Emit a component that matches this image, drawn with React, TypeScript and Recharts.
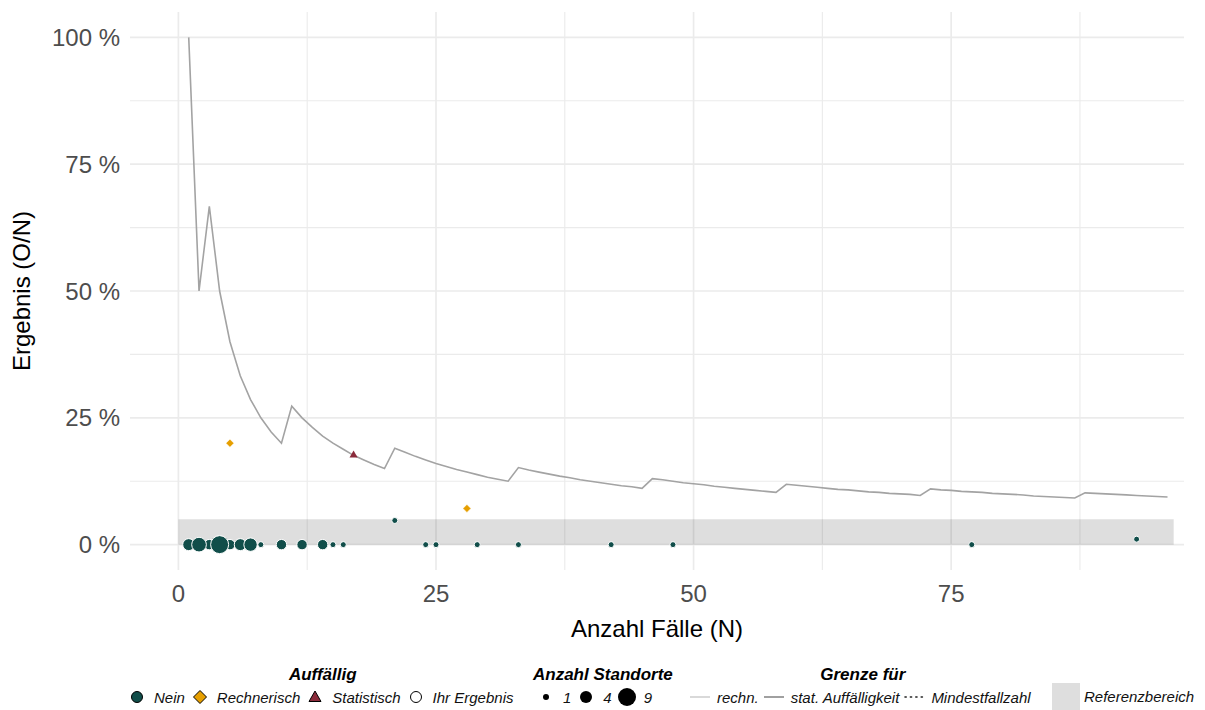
import React from 'react';
import {
  ComposedChart,
  Line,
  Scatter,
  XAxis,
  YAxis,
  ZAxis,
  CartesianGrid,
  ReferenceArea,
} from 'recharts';

const FONT = '"Liberation Sans", Arial, Helvetica, sans-serif';

// Grenze für statistische Auffälligkeit, je Fallzahl N (in %)
const limitN = [
  1, 2, 3, 4, 5, 6, 7, 8, 9, 10, 11, 12, 13, 14, 15, 16, 17, 18, 19, 20,
  21, 22, 23, 24, 25, 26, 27, 28, 29, 30, 31, 32, 33, 34, 35, 36, 37, 38, 39, 40,
  41, 42, 43, 44, 45, 46, 47, 48, 49, 50, 51, 52, 53, 54, 55, 56, 57, 58, 59, 60,
  61, 62, 63, 64, 65, 66, 67, 68, 69, 70, 71, 72, 73, 74, 75, 76, 77, 78, 79, 80,
  81, 82, 83, 84, 85, 86, 87, 88, 89, 90, 91, 92, 93, 94, 95, 96,
];
const limitPct = [
  100, 50, 66.7, 50, 40, 33.3, 28.6, 25, 22.2, 20,
  27.3, 25, 23.1, 21.4, 20, 18.8, 17.6, 16.7, 15.8, 15,
  19.0, 18.2, 17.4, 16.7, 16, 15.4, 14.8, 14.3, 13.8, 13.3, 12.9, 12.5,
  15.2, 14.7, 14.3, 13.9, 13.5, 13.2, 12.8, 12.5, 12.2, 11.9, 11.6, 11.4, 11.1,
  13.0, 12.8, 12.5, 12.2, 12, 11.8, 11.5, 11.3, 11.1, 10.9, 10.7, 10.5, 10.3,
  11.9, 11.7, 11.5, 11.3, 11.1, 10.9, 10.8, 10.6, 10.4, 10.3, 10.1, 10, 9.9, 9.7,
  11.0, 10.8, 10.7, 10.5, 10.4, 10.3, 10.1, 10, 9.9, 9.8, 9.6, 9.5, 9.4, 9.3, 9.2,
  10.2, 10.1, 10, 9.9, 9.8, 9.7, 9.6, 9.5, 9.4,
];

// Standorte ohne Auffälligkeit: Fallzahl, Ergebnis (%), Anzahl Standorte
const neinN = [3, 5, 1, 6, 7, 2, 4, 8, 10, 12, 14, 15, 16, 21, 24, 25, 29, 33, 42, 48, 77, 93];
const neinPct = [0, 0, 0, 0, 0, 0, 0, 0, 0, 0, 0, 0, 0, 4.76, 0, 0, 0, 0, 0, 0, 0, 1.08];
const neinSites = [3, 3, 4, 4, 5, 6, 9, 1, 3, 3, 3, 1, 1, 1, 1, 1, 1, 1, 1, 1, 1, 1];

// Rechnerisch auffällig
const rechN = [5, 28];
const rechPct = [20, 7.14];

// Statistisch auffällig
const statN = [17];
const statPct = [17.65];

// Referenzbereich
const refRange = { xFrom: 0, xTo: 96.6, yFrom: 0, yTo: 5 };

const xTicks = [0, 25, 50, 75];
const xMinor = [12.5, 37.5, 62.5, 87.5];
const yTicks = [0, 25, 50, 75, 100];
const yMinor = [12.5, 37.5, 62.5, 87.5];

const auffLabels = ['Nein', 'Rechnerisch', 'Statistisch', 'Ihr Ergebnis'];
const sizeLabels = [1, 4, 9];
const grenzeLabels = ['rechn.', 'stat. Auffälligkeit', 'Mindestfallzahl'];

const limitData = limitN.map((n, i) => ({ n, v: limitPct[i] }));
const neinData = neinN.map((n, i) => ({ n, v: neinPct[i], sites: neinSites[i] }));
const rechData = rechN.map((n, i) => ({ n, v: rechPct[i], sites: 1 }));
const statData = statN.map((n, i) => ({ n, v: statPct[i], sites: 1 }));

const TEAL = '#114e4a';
const ORANGE = '#e69f00';
const RED = '#8b2b3b';

const DiamondShape = (props: any) => {
  const { cx, cy } = props;
  const h = 4;
  return (
    <polygon
      points={`${cx},${cy - h} ${cx + h},${cy} ${cx},${cy + h} ${cx - h},${cy}`}
      fill={ORANGE}
      stroke="#fff"
      strokeWidth={0.5}
    />
  );
};

const XTitle = (props: any) => {
  const vb = props.viewBox;
  return (
    <text
      x={vb.x + vb.width / 2}
      y={vb.y + 67}
      textAnchor="middle"
      fontSize={24}
      fontFamily={FONT}
      fill="#000"
    >
      Anzahl Fälle (N)
    </text>
  );
};

const YTitle = (props: any) => {
  const vb = props.viewBox;
  const cx = 30;
  const cy = vb.y + vb.height / 2;
  return (
    <text
      x={cx}
      y={cy}
      transform={`rotate(-90 ${cx} ${cy})`}
      textAnchor="middle"
      fontSize={24}
      fontFamily={FONT}
      fill="#000"
    >
      Ergebnis (O/N)
    </text>
  );
};

const txt: React.CSSProperties = {
  fontStyle: 'italic',
  fontSize: 15,
  color: '#111',
  whiteSpace: 'nowrap',
  marginLeft: 7,
  marginRight: 5,
};
const title: React.CSSProperties = {
  fontStyle: 'italic',
  fontWeight: 'bold',
  fontSize: 17,
  textAlign: 'center',
  height: 20,
  lineHeight: '20px',
  whiteSpace: 'nowrap',
  color: '#000',
};
const row: React.CSSProperties = {
  display: 'flex',
  alignItems: 'center',
  height: 24,
  marginTop: 0,
};

const Key = ({ children, w = 20 }: { children: React.ReactNode; w?: number }) => (
  <svg width={w} height={20} viewBox={`0 0 ${w} 20`} style={{ display: 'block', flex: 'none' }}>
    {children}
  </svg>
);

const auffIcons = [
  <circle cx={10} cy={10} r={5.5} fill={TEAL} stroke="#000" strokeWidth={1} />,
  <polygon points="10,3.5 16.5,10 10,16.5 3.5,10" fill={ORANGE} stroke="#000" strokeWidth={1} />,
  <polygon points="10,4 16,14.5 4,14.5" fill={RED} stroke="#000" strokeWidth={1} />,
  <circle cx={10} cy={10} r={5.5} fill="#fff" stroke="#000" strokeWidth={1} />,
];
const sizeRadii = [3, 6, 9];
const grenzeIcons = [
  <line x1={0} y1={10} x2={20} y2={10} stroke="#d9d9d9" strokeWidth={2} />,
  <line x1={0} y1={10} x2={20} y2={10} stroke="#a0a0a0" strokeWidth={2} />,
  <line x1={1} y1={10} x2={20} y2={10} stroke="#222" strokeWidth={1.6} strokeDasharray="1.2 4.2" strokeLinecap="round" />,
];

const LegendBlock = () => (
  <div style={{ position: 'absolute', left: 0, top: 0, width: 1205, height: 710, pointerEvents: 'none', fontFamily: FONT }}>
    <div style={{ position: 'absolute', left: 127, top: 665 }}>
      <div style={title}>Auffällig</div>
      <div style={row}>
        {auffLabels.map((l, i) => (
          <React.Fragment key={l}>
            <Key>{auffIcons[i]}</Key>
            <span style={txt}>{l}</span>
          </React.Fragment>
        ))}
      </div>
    </div>
    <div style={{ position: 'absolute', left: 533, top: 665 }}>
      <div style={title}>Anzahl Standorte</div>
      <div style={{ ...row, marginLeft: 3 }}>
        {sizeLabels.map((l, i) => (
          <React.Fragment key={l}>
            <Key>
              <circle cx={10} cy={10} r={sizeRadii[i]} fill="#000" />
            </Key>
            <span style={txt}>{l}</span>
          </React.Fragment>
        ))}
      </div>
    </div>
    <div style={{ position: 'absolute', left: 690, top: 665 }}>
      <div style={title}>Grenze für</div>
      <div style={row}>
        {grenzeLabels.map((l, i) => (
          <React.Fragment key={l}>
            <Key>{grenzeIcons[i]}</Key>
            <span style={txt}>{l}</span>
          </React.Fragment>
        ))}
      </div>
    </div>
    <div style={{ position: 'absolute', left: 1052, top: 683, display: 'flex', alignItems: 'center' }}>
      <div style={{ width: 28, height: 27, background: '#dedede' }} />
      <span style={{ ...txt, marginLeft: 4 }}>Referenzbereich</span>
    </div>
  </div>
);

export default function App() {
  return (
    <div style={{ position: 'relative', width: 1205, height: 710, background: '#fff', fontFamily: FONT }}>
      <style>{`body{margin:0}`}</style>
      <ComposedChart width={1205} height={710} margin={{ top: 12, right: 21, bottom: 60, left: 0 }}>
        <CartesianGrid
          stroke="#ebebeb"
          strokeWidth={1.1}
          horizontalValues={yMinor}
          verticalValues={xMinor}
        />
        <CartesianGrid
          stroke="#ebebeb"
          strokeWidth={1.7}
          horizontalValues={yTicks}
          verticalValues={xTicks}
        />
        <XAxis
          type="number"
          dataKey="n"
          domain={[-4.7, 97.6]}
          ticks={xTicks}
          interval={0}
          allowDataOverflow
          axisLine={false}
          tickLine={false}
          tickSize={0}
          tickMargin={15}
          height={80}
          tick={{ fill: '#4d4d4d', fontSize: 24, fontFamily: FONT }}
          label={<XTitle />}
        />
        <YAxis
          type="number"
          dataKey="v"
          domain={[-5, 105]}
          ticks={yTicks}
          interval={0}
          allowDataOverflow
          axisLine={false}
          tickLine={false}
          tickSize={0}
          tickMargin={10}
          width={130}
          tickFormatter={(v: number) => `${v} %`}
          tick={{ fill: '#4d4d4d', fontSize: 24, fontFamily: FONT }}
          label={<YTitle />}
        />
        <ZAxis type="number" dataKey="sites" domain={[1, 9]} range={[28.3, 254.5]} />
        <ReferenceArea
          x1={refRange.xFrom}
          x2={refRange.xTo}
          y1={refRange.yFrom}
          y2={refRange.yTo}
          fill="#000"
          fillOpacity={0.13}
          stroke="none"
        />
        <Line
          data={limitData}
          dataKey="v"
          type="linear"
          stroke="#a3a3a3"
          strokeWidth={1.6}
          dot={false}
          activeDot={false}
          isAnimationActive={false}
        />
        <Scatter data={neinData} fill={TEAL} stroke="#fff" strokeWidth={1} isAnimationActive={false} />
        <Scatter data={rechData} shape={<DiamondShape />} isAnimationActive={false} />
        <Scatter data={statData} shape="triangle" fill={RED} isAnimationActive={false} />
      </ComposedChart>
      <LegendBlock />
    </div>
  );
}
